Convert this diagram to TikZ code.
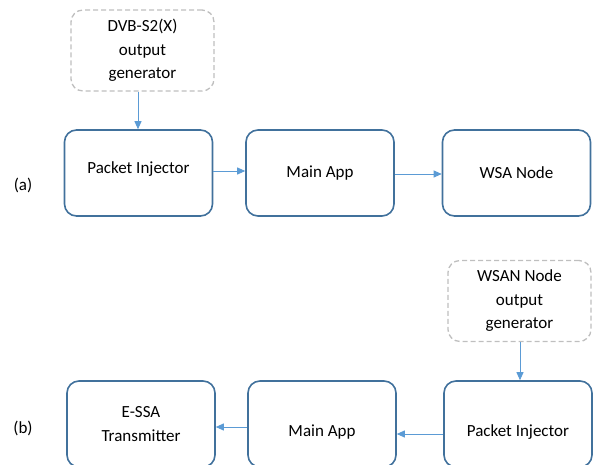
\documentclass[tikz,border=0pt]{standalone}
\usepackage{fontspec}
\setmainfont{Carlito}
\usetikzlibrary{arrows.meta}
\definecolor{boxblue}{HTML}{41719C}
\definecolor{arrblue}{HTML}{5B9BD5}
\definecolor{dashgray}{HTML}{BFBFBF}
\begin{document}
\begin{tikzpicture}[x=1pt,y=-1pt,
  every node/.style={font=\fontsize{17}{23.5}\selectfont, align=center, inner sep=0pt},
  mainbox/.style={draw=boxblue, line width=1.6pt, rounded corners=12pt, minimum width=148pt, minimum height=86pt},
  genbox/.style={draw=dashgray, line width=1.3pt, dash pattern=on 5pt off 3pt, rounded corners=12pt, minimum width=143pt, minimum height=81pt},
  flow/.style={draw=arrblue, line width=0.9pt, -{Triangle[length=8pt,width=7pt]}},
  tag/.style={font=\fontsize{17}{20}\selectfont}
]
\useasboundingbox (0,0) rectangle (595,464);
\clip (0,0) rectangle (595,464);
% (a)
\node[genbox] (gena) at (142.5,50.5) {DVB-S2(X)\\output\\generator};
\node[mainbox] (pia) at (138.5,173) {\raisebox{-0.5pt}[0pt][0pt]{Packet Injector}};
\node[mainbox] (appa) at (320,173) {Main App};
\node[mainbox] (wsa) at (516.5,173) {WSA Node};
\node[tag] (la) at (23,185) {(a)};
\draw[flow] (gena.south -| 138,0) -- (pia.north -| 138,0);
\draw[flow] (pia.east |- 0,171) -- (appa.west |- 0,171);
\draw[flow] (appa.east |- 0,174) -- (wsa.west |- 0,174);
% (b)
\node[genbox] (genb) at (519.5,301) {WSAN Node\\output\\generator};
\node[mainbox] (pib) at (518,424) {\raisebox{-12.5pt}[0pt][0pt]{Packet Injector}};
\node[mainbox] (appb) at (322,424) {\raisebox{-12.5pt}[0pt][0pt]{Main App}};
\node[mainbox] (essa) at (141,424) {E-SSA\\Transmitter};
\node[tag] (lb) at (23,428) {(b)};
\draw[flow] (genb.south -| 520,0) -- (pib.north -| 520,0);
\draw[flow] (pib.west |- 0,434) -- (appb.east |- 0,434);
\draw[flow] (appb.west |- 0,427) -- (essa.east |- 0,427);
\end{tikzpicture}
\end{document}
